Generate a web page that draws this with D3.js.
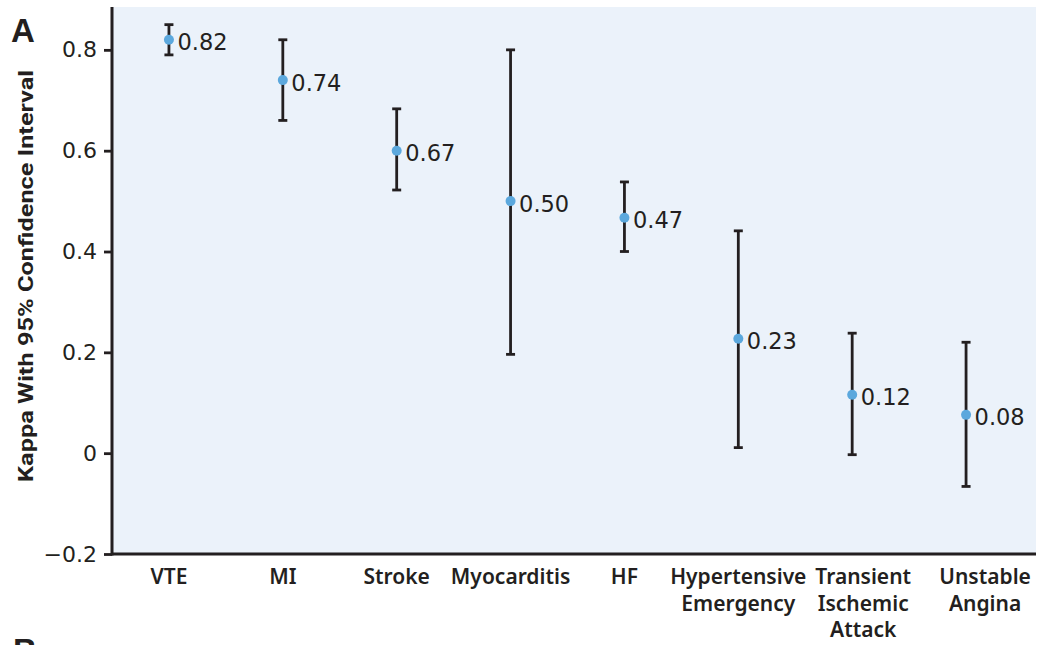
<!DOCTYPE html>
<html>
<head>
<meta charset="utf-8">
<script src="https://cdn.jsdelivr.net/npm/d3@7"></script>
<style>
  body { margin: 0; background: #fff; }
  text { font-family: "Noto Sans", "Open Sans", sans-serif; fill: #231f20; }
</style>
</head>
<body>
<svg id="chart" width="1045" height="645"></svg>
<script>
// Kappa per diagnosis, with 95% CI
const categories = ["VTE", "MI", "Stroke", "Myocarditis", "HF", "Hypertensive\nEmergency", "Transient\nIschemic\nAttack", "Unstable\nAngina"]
const kappa = [0.82, 0.74, 0.60, 0.50, 0.467, 0.227, 0.116, 0.076]
const lower = [0.79, 0.66, 0.522, 0.196, 0.40, 0.011, -0.003, -0.066]
const upper = [0.85, 0.82, 0.683, 0.80, 0.538, 0.441, 0.238, 0.22]
const valueLabels = ["0.82", "0.74", "0.67", "0.50", "0.47", "0.23", "0.12", "0.08"]
const yTicks = [-0.2, 0, 0.2, 0.4, 0.6, 0.8]

const plotLeft = 112, plotRight = 1036, plotTop = 7, plotBottom = 554
// the last two category labels sit a little right of their points
const labelShift = [0, 0, 0, 0, 0, 0, 11, 19]

let svg = d3.select("#chart")

let x = d3.scaleBand()
    .domain(categories)
    .range([plotLeft, 1023])

let y = d3.scaleLinear()
    .domain([-0.2, 0.885])
    .range([plotBottom, plotTop])

// background panel
svg.append("rect")
    .attr("x", plotLeft)
    .attr("y", plotTop)
    .attr("width", plotRight - plotLeft)
    .attr("height", plotBottom - plotTop)
    .attr("fill", "#ebf2fa")

// y axis
let yAxis = svg.append("g")
    .attr("transform", `translate(${plotLeft},0)`)
    .call(d3.axisLeft(y).tickValues(yTicks).tickSize(8).tickPadding(7)
        .tickFormat(d => d === 0 ? "0" : d3.format(".1f")(d).replace("-", "\u2212")))
yAxis.select(".domain").remove()
yAxis.selectAll(".tick line").attr("stroke", "#231f20").attr("stroke-width", 2.8)
yAxis.selectAll(".tick text")
    .attr("font-size", 22)
    .attr("fill", "#231f20")
    .style("font-family", "'DejaVu Sans', sans-serif")

svg.append("line")
    .attr("x1", plotLeft).attr("x2", plotLeft)
    .attr("y1", plotTop).attr("y2", plotBottom + 1.5)
    .attr("stroke", "#231f20").attr("stroke-width", 3)
svg.append("line")
    .attr("x1", plotLeft).attr("x2", plotRight)
    .attr("y1", plotBottom).attr("y2", plotBottom)
    .attr("stroke", "#231f20").attr("stroke-width", 3)

// category labels, multiline
let cats = svg.append("g")
    .selectAll("text")
    .data(categories)
    .join("text")
        .attr("text-anchor", "middle")
        .attr("font-size", 21)
        .attr("font-weight", 600)
        .attr("transform", (d, i) => `translate(${x(d) + x.bandwidth() / 2 + labelShift[i]},584)`)
cats.selectAll("tspan")
    .data(d => d.split("\n"))
    .join("tspan")
        .attr("x", 0)
        .attr("y", (d, i) => i * 26.5)
        .text(d => d)

// y axis title
svg.append("text")
    .attr("transform", "translate(33,276) rotate(-90)")
    .attr("text-anchor", "middle")
    .attr("font-size", 21)
    .attr("font-weight", 700)
    .attr("textLength", 412)
    .attr("lengthAdjust", "spacingAndGlyphs")
    .style("font-family", "'Liberation Sans Narrow', 'Roboto', sans-serif")
    .text("Kappa With 95% Confidence Interval")

// panel letters
svg.append("text")
    .attr("x", 11).attr("y", 42)
    .attr("font-size", 33).attr("font-weight", 700)
    .style("font-family", "'Liberation Sans', sans-serif")
    .text("A")
svg.append("text")
    .attr("x", 13).attr("y", 662)
    .attr("font-size", 33).attr("font-weight", 700)
    .style("font-family", "'Liberation Sans', sans-serif")
    .text("B")

let idx = d3.range(categories.length)
let cx = i => x(categories[i]) + x.bandwidth() / 2

// error bars
let bars = svg.append("g").attr("stroke", "#231f20").attr("stroke-width", 2.8)
bars.selectAll("line.v")
    .data(idx)
    .join("line")
        .classed("v", true)
        .attr("x1", cx).attr("x2", cx)
        .attr("y1", i => y(lower[i])).attr("y2", i => y(upper[i]))
bars.selectAll("line.cap")
    .data(idx.flatMap(i => [[i, lower[i]], [i, upper[i]]]))
    .join("line")
        .classed("cap", true)
        .attr("x1", d => cx(d[0]) - 4.5).attr("x2", d => cx(d[0]) + 4.5)
        .attr("y1", d => y(d[1])).attr("y2", d => y(d[1]))

// points
svg.append("g")
    .selectAll("circle")
    .data(idx)
    .join("circle")
        .attr("cx", cx)
        .attr("cy", i => y(kappa[i]))
        .attr("r", 5)
        .attr("fill", "#5ba8dd")

// value labels
svg.append("g")
    .selectAll("text")
    .data(idx)
    .join("text")
        .attr("x", i => cx(i) + 8.5)
        .attr("y", i => y(kappa[i]))
        .attr("dy", "0.47em")
        .attr("font-size", 22.5)
        .style("font-family", "'DejaVu Sans', sans-serif")
        .text(i => valueLabels[i])
</script>
</body>
</html>
